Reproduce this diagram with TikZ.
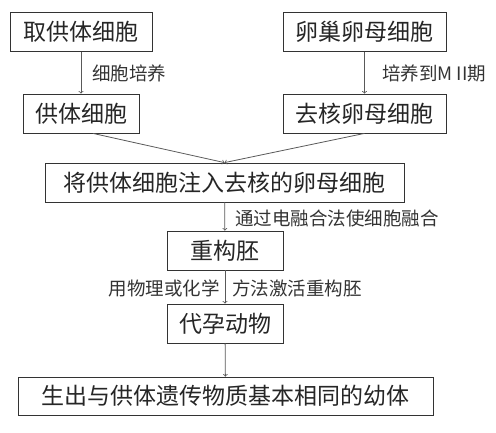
\documentclass[tikz,border=0pt]{standalone}
\usepackage{fontspec}
\setmainfont{Noto Sans CJK SC}
\usepackage{tikz}
\usetikzlibrary{arrows,positioning}

\begin{document}
\begin{tikzpicture}
    [
      x=1pt, y=-1pt,
      stepbox/.style={draw=black!80,line width=0.8pt,inner sep=0pt,minimum height=39pt,font=\fontsize{23}{23}\selectfont,text=black!85},
      note/.style={inner sep=0pt,font=\fontsize{18.5}{18.5}\selectfont,text=black!80},
      post/.style={->,>=to,draw=black!65,line width=0.8pt},
    ]
    \useasboundingbox (0,0) rectangle (496,432);

    \node (b1) [stepbox, minimum width=142pt] at (81,32) {取供体细胞};
    \node (b2) [stepbox, minimum width=163pt] at (364.5,32) {卵巢卵母细胞};
    \node (b3) [stepbox, minimum width=116pt] at (81,113.5) {供体细胞};
    \node (b4) [stepbox, minimum width=163pt] at (364.5,113.5) {去核卵母细胞};
    \node (b5) [stepbox, minimum width=359pt] at (224.5,182.5) {将供体细胞注入去核的卵母细胞};
    \node (b6) [stepbox, minimum width=116pt] at (225,250.5) {重构胚};
    \node (b7) [stepbox, minimum width=116pt] at (225,323.5) {代孕动物};
    \node (b8) [stepbox, minimum width=415pt, minimum height=38pt] at (225.5,396) {生出与供体遗传物质基本相同的幼体};

    \node (l1) [note, anchor=west] at (92,73) {细胞培养};
    \node (l2) [note, anchor=west] at (382,73) {培养到M II期};
    \node (l3) [note, anchor=west] at (235,218) {通过电融合法使细胞融合};
    \node (l4) [note, anchor=east] at (220,288) {用物理或化学};
    \node (l5) [note, anchor=west] at (232,288) {方法激活重构胚};

    \path
    (b1) edge [post] (b3)
    (b2) edge [post] (b4)
    ([xshift=12pt]b3.south) edge [post] (b5.north)
    (b4.south) edge [post] (b5.north)
    (b5) edge [post] (b6)
    (b6) edge [post] (b7)
    (b7) edge [post] (b8)
    ;

\end{tikzpicture}
\end{document}
